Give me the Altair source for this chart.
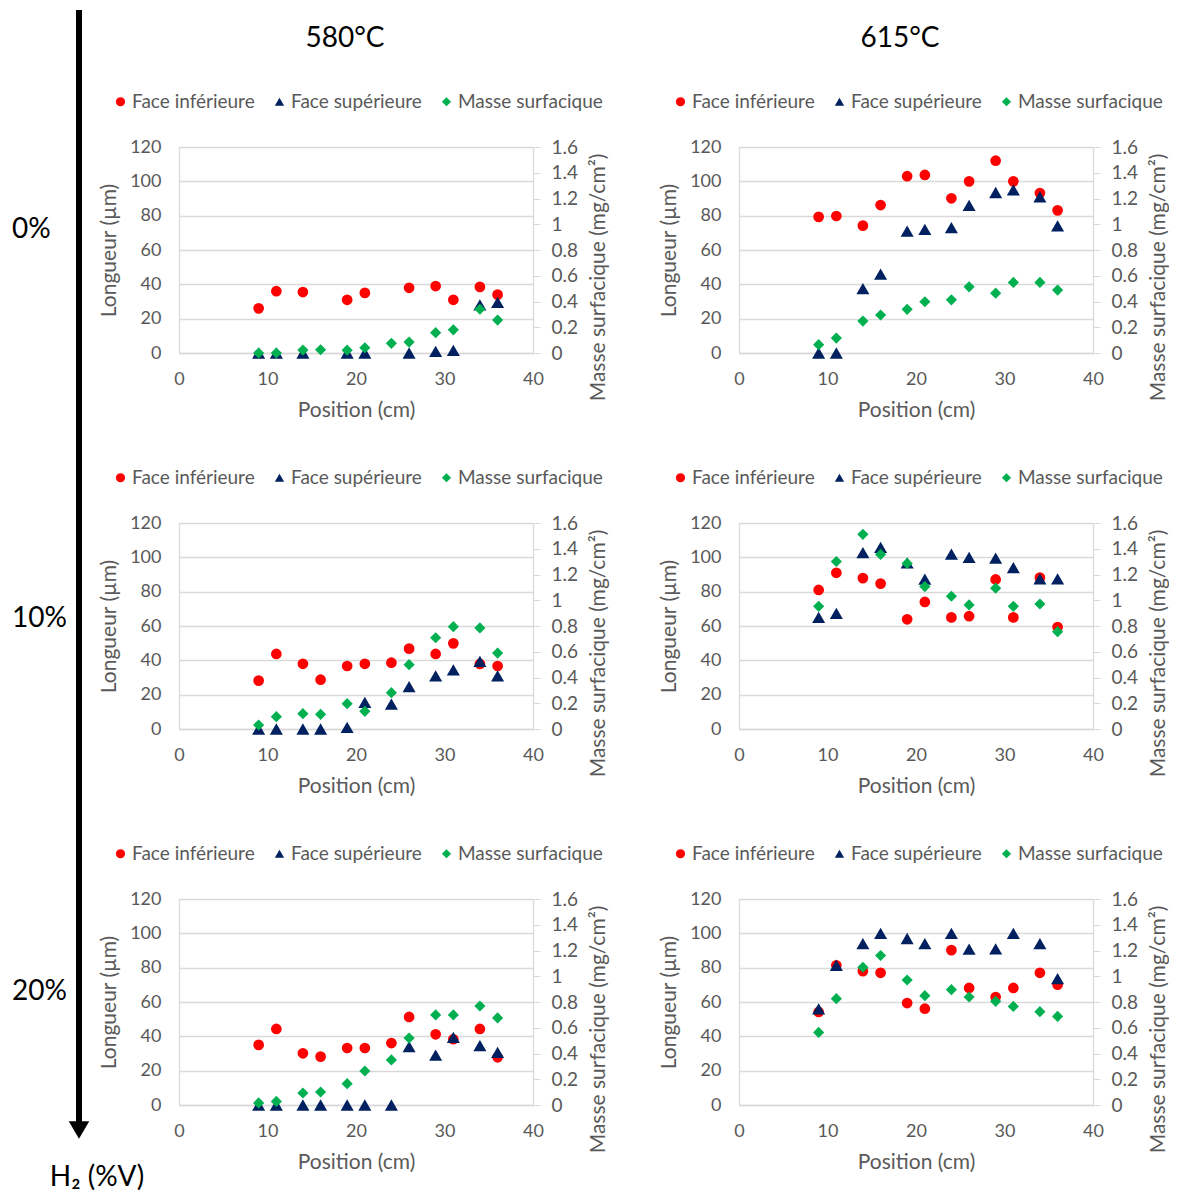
import altair as alt
import pandas as pd

# ---------------- data ----------------
positions = [9, 11, 14, 16, 19, 21, 24, 26, 29, 31, 34, 36]

series_names = ["Face inférieure", "Face supérieure", "Masse surfacique"]
series_colors = ["#FF0000", "#002060", "#00B050"]
series_shapes = ["circle", "triangle-up", "diamond"]

# 580 °C, 0 % H2
inf_580_0 = [26, 36, 35.5, None, 31, 35, None, 38, 39, 31, 38.5, 34]
sup_580_0 = [0, 0, 0, None, 0, 0, None, 0, 1, 1.5, 28, 29.5]
mas_580_0 = [0, 0, 0.023, 0.025, 0.022, 0.041, 0.075, 0.085, 0.158, 0.18, 0.34, 0.256]
# 615 °C, 0 % H2
inf_615_0 = [79.3, 79.8, 74.2, 86.2, 103, 103.7, 90.1, 100, 112, 100, 93.2, 83.1]
sup_615_0 = [0, 0, 37.5, 46, 71, 72, 73, 86, 93.5, 95, 91, 74]
mas_615_0 = [0.065, 0.116, 0.248, 0.295, 0.339, 0.398, 0.413, 0.514, 0.465, 0.548, 0.548, 0.489]
# 580 °C, 10 % H2
inf_580_10 = [28.2, 43.7, 38, 28.7, 36.7, 38, 38.6, 46.8, 43.7, 49.9, 37.9, 36.7]
sup_580_10 = [0, 0, 0, 0, 1, 15.5, 14.5, 24.7, 31, 34.4, 39.4, 31]
mas_580_10 = [0.031, 0.096, 0.119, 0.114, 0.197, 0.137, 0.282, 0.5, 0.709, 0.795, 0.785, 0.59]
# 615 °C, 10 % H2
inf_615_10 = [81, 91, 87.9, 84.7, 63.9, 74, 65, 65.7, 87.1, 65, 88.2, 59.4]
sup_615_10 = [65, 67.4, 102.8, 105.8, 96.8, 87.3, 101.9, 100, 99.5, 94, 87.5, 87.5]
mas_615_10 = [0.953, 1.301, 1.512, 1.356, 1.286, 1.106, 1.031, 0.964, 1.094, 0.953, 0.971, 0.756]
# 580 °C, 20 % H2
inf_580_20 = [35, 44.3, 30.1, 28.2, 33.2, 33.2, 36.1, 51.3, 41.2, 38.3, 44.3, 27.8]
sup_580_20 = [0, 0, 0, 0, 0, 0, 0, 34, 29, 39.4, 34.6, 30.7]
mas_580_20 = [0.016, 0.028, 0.093, 0.101, 0.166, 0.264, 0.35, 0.52, 0.70, 0.70, 0.769, 0.676]
# 615 °C, 20 % H2
inf_615_20 = [54.2, 81.4, 78, 77, 59.4, 56.1, 90.2, 68.2, 62.9, 68.2, 77, 70.1]
sup_615_20 = [56, 81.4, 94, 100, 97, 94, 100, 90.8, 91, 100, 94, 73.6]
mas_615_20 = [0.564, 0.826, 1.07, 1.161, 0.971, 0.849, 0.896, 0.839, 0.805, 0.766, 0.725, 0.688]

left_ticks = [0, 20, 40, 60, 80, 100, 120]
right_ticks = [0, 0.2, 0.4, 0.6, 0.8, 1, 1.2, 1.4, 1.6]
x_ticks = [0, 10, 20, 30, 40]

column_titles = ["580°C", "615°C"]
row_labels = ["0%", "10%", "20%"]
axis_label = "H₂ (%V)"

# ---------------- style ----------------
FONT = "Lato"
GRAY = "#595959"
LINE = "#D9D9D9"
PW, PH = 354, 206

color_scale = alt.Scale(domain=series_names, range=series_colors)
shape_scale = alt.Scale(domain=series_names, range=series_shapes)


def long_df(values, name):
    df = pd.DataFrame({"pos": positions, "val": values, "serie": name})
    return df.dropna()


def panel(inf, sup, mas):
    legend = alt.Legend(
        title=None, orient="none", legendX=-68, legendY=-55, direction="horizontal",
        labelFont=FONT, labelFontSize=19, labelColor=GRAY, symbolSize=85,
        symbolStrokeWidth=0, labelOffset=2, columnPadding=15, padding=0,
    )
    x = alt.X("pos:Q", scale=alt.Scale(domain=[0, 40], nice=False),
              axis=alt.Axis(values=x_ticks, title="Position (cm)", ticks=False, grid=False,
                            labelFlush=False, labelPadding=17, titlePadding=11))
    color = alt.Color("serie:N", scale=color_scale, legend=legend)
    shape = alt.Shape("serie:N", scale=shape_scale, legend=legend)
    yl = alt.Y("val:Q", scale=alt.Scale(domain=[0, 120], nice=False),
               axis=alt.Axis(values=left_ticks, title="Longueur (µm)", orient="left",
                             ticks=False, grid=True, labelPadding=18, titlePadding=10))
    yr = alt.Y("val:Q", scale=alt.Scale(domain=[0, 1.6], nice=False),
               axis=alt.Axis(values=right_ticks, format="~g", title="Masse surfacique (mg/cm²)",
                             orient="right", grid=False, ticks=True, tickSize=7,
                             labelPadding=11, titlePadding=10, titleAngle=270,
                             titleBaseline="top", labelFontSize=19, titleY=130))
    circles = alt.Chart(long_df(inf, series_names[0])).mark_point(
        filled=True, size=115, opacity=1).encode(x=x, y=yl, color=color, shape=shape)
    tris = alt.Chart(long_df(sup, series_names[1])).mark_point(
        filled=True, size=170, opacity=1).encode(x=x, y=yl, color=color, shape=shape)
    diamonds = alt.Chart(long_df(mas, series_names[2])).mark_point(
        filled=True, size=125, opacity=1).encode(x=x, y=yr, color=color, shape=shape)
    return alt.layer(alt.layer(circles, tris), diamonds).resolve_scale(y="independent")


def note(text, x, y, size, align="center"):
    return alt.Chart(pd.DataFrame({"t": [text]})).mark_text(
        font=FONT, fontSize=size, color="black", align=align, baseline="middle"
    ).encode(x=alt.value(x), y=alt.value(y), text="t:N")


# annotations drawn relative to the top-left plot area
arrow_line = alt.Chart(pd.DataFrame({"a": [0]})).mark_rule(
    color="black", strokeWidth=6, strokeCap="square"
).encode(x=alt.value(-100), y=alt.value(-134), y2=alt.value(976))
arrow_head = alt.Chart(pd.DataFrame({"a": [0]})).mark_point(
    shape="triangle-down", filled=True, size=420, color="black", opacity=1
).encode(x=alt.value(-100), y=alt.value(983))

annotations = [
    arrow_line, arrow_head,
    note(column_titles[0], 166, -108, 28),
    note(column_titles[1], 721, -108, 28),
    note(row_labels[0], -167, 83, 28, "left"),
    note(row_labels[1], -167, 472, 28, "left"),
    note(row_labels[2], -167, 845, 28, "left"),
    note(axis_label, -82, 1031, 28),
]

p1 = alt.layer(panel(inf_580_0, sup_580_0, mas_580_0), *annotations).resolve_scale(y="independent")
panels = [
    p1,
    panel(inf_615_0, sup_615_0, mas_615_0),
    panel(inf_580_10, sup_580_10, mas_580_10),
    panel(inf_615_10, sup_615_10, mas_615_10),
    panel(inf_580_20, sup_580_20, mas_580_20),
    panel(inf_615_20, sup_615_20, mas_615_20),
]
panels = [p.properties(width=PW, height=PH) for p in panels]

chart = alt.concat(
    *panels, columns=2, spacing={"row": 170, "column": 206}, bounds="flush"
).resolve_scale(
    color="independent", shape="independent"
).resolve_legend(
    color="independent", shape="independent"
).properties(
    padding={"left": 4, "top": 0, "right": 0, "bottom": 0}
).configure_view(
    stroke=None
).configure_axis(
    labelFont=FONT, titleFont=FONT, labelFontSize=18, titleFontSize=21,
    labelColor=GRAY, titleColor=GRAY, titleFontWeight="normal",
    domainColor=LINE, gridColor=LINE, tickColor=LINE, domainWidth=1.3, gridWidth=1.3,
)

chart.save("out.html", embed_options={"renderer": "svg", "actions": False})
